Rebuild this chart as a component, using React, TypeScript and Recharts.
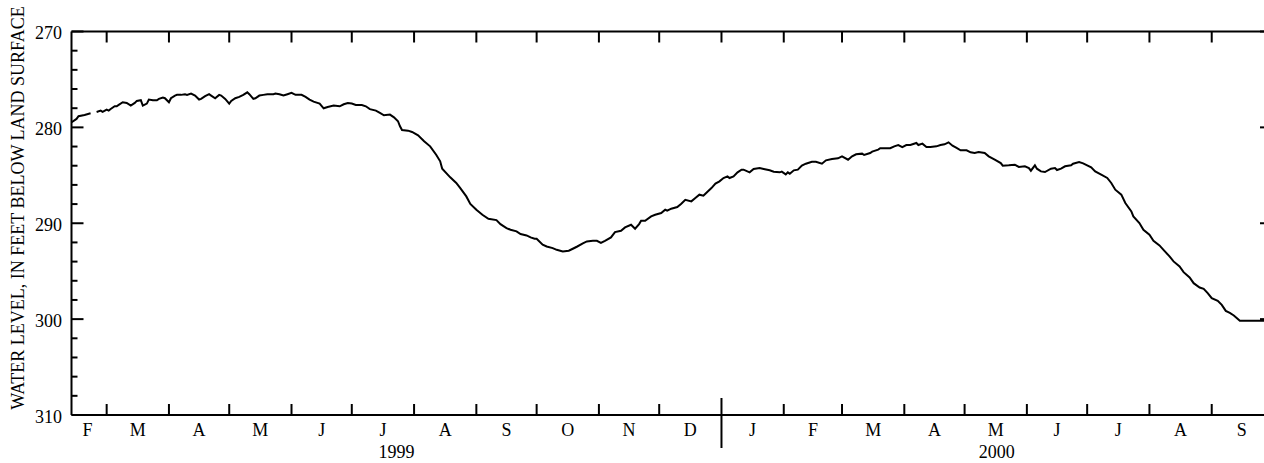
import React from 'react';
import { LineChart, Line, XAxis, YAxis } from 'recharts';

// Day offsets counted from 1999-01-01 (day 0); null level = gap in record
const dayOffsets = [
  41, 44, 45, 48, 51, 53, 54, 56, 57, 59, 60, 61, 63, 64, 65, 67, 69, 71, 73, 74, 76, 77, 79, 80, 82, 84, 85, 87, 88, 90,
  91, 93, 94, 96, 98, 99, 101, 103, 105, 106, 108, 110, 111, 113, 115, 116, 118, 120, 121, 123, 125, 127, 129, 130, 132,
  133, 135, 137, 139, 142, 143, 145, 147, 149, 151, 153, 156, 158, 160, 162, 165, 167, 169, 172, 175, 177, 179, 181, 183,
  186, 188, 190, 193, 195, 197, 200, 202, 204, 205, 206, 209, 211, 214, 217, 220, 223, 225, 226, 230, 233, 235, 238, 240,
  243, 246, 249, 253, 255, 258, 260, 263, 265, 268, 270, 272, 273, 276, 278, 281, 283, 286, 289, 291, 293, 296, 298, 301,
  303, 305, 307, 310, 312, 315, 317, 320, 322, 324, 325, 327, 330, 332, 335, 337, 338, 340, 343, 345, 347, 350, 352, 354,
  356, 357, 360, 362, 364, 366, 368, 369, 371, 373, 375, 376, 379, 381, 384, 386, 389, 391, 394, 395, 397, 398, 399, 401,
  403, 405, 407, 410, 412, 415, 417, 420, 423, 425, 428, 430, 432, 435, 436, 439, 440, 443, 444, 447, 449, 451, 453, 455,
  457, 459, 462, 463, 465, 467, 469, 472, 474, 476, 478, 480, 482, 484, 487, 489, 491, 493, 496, 498, 501, 504, 505, 508,
  511, 513, 516, 518, 519, 521, 522, 524, 526, 529, 531, 532, 534, 536, 539, 540, 543, 545, 547, 549, 551, 554, 557, 559,
  561, 564, 566, 569, 570, 573, 575, 578, 580, 583, 585, 588, 590, 593, 595, 598, 600, 603, 605, 607, 609, 612, 614, 616,
  618, 620, 623, 626, 630, 635, 638,
];

const waterLevels: (number | null)[] = [
  279.54, 279.12, 278.84, 278.7, 278.53, null, 278.39, 278.25, 278.39, 278.15, 278.25, 278.08, 277.8, 277.8, 277.66, 277.38,
  277.45, 277.73, 277.45, 277.24, 277.17, 277.73, 277.52, 277.1, 277.17, 277.17, 277.03, 276.89, 276.96, 277.38,
  276.96, 276.68, 276.61, 276.61, 276.54, 276.61, 276.47, 276.68, 277.1, 277.03, 276.75, 276.54, 276.68, 276.96, 276.61,
  276.68, 277.03, 277.52, 277.24, 276.96, 276.82, 276.61, 276.34, 276.54, 277.03,
  276.96, 276.68, 276.61, 276.54, 276.54, 276.47, 276.54, 276.68, 276.54, 276.4, 276.61, 276.61, 276.82, 277.1, 277.31,
  277.52, 278.01, 277.87, 277.73, 277.8, 277.59, 277.45, 277.52, 277.66,
  277.66, 277.8, 278.1, 278.25, 278.49, 278.74, 278.67, 278.95, 279.36, 279.89, 280.27, 280.34, 280.48, 280.83, 281.45,
  281.98, 282.85, 283.54, 284.31, 285.21, 285.8, 286.33, 287.2, 287.98,
  288.59, 289.11, 289.53, 289.67, 290.09, 290.5, 290.68, 290.85, 291.13, 291.27, 291.48, 291.62, 291.62, 292.24, 292.42,
  292.59, 292.77, 292.94, 292.87, 292.66, 292.45, 292.11, 291.9, 291.83,
  291.83, 292.04, 291.83, 291.48, 290.92, 290.78, 290.43, 290.16, 290.57, 290.09, 289.74, 289.74, 289.29, 289.11, 288.94,
  288.59, 288.69, 288.48, 288.31, 287.96, 287.55, 287.72, 287.37, 287.02,
  287.13, 286.92, 286.33, 285.87, 285.63, 285.28, 285.11, 285.28, 285.11, 284.69, 284.41, 284.41, 284.69, 284.34, 284.24,
  284.34, 284.48, 284.62, 284.69, 284.62, 284.9, 284.69, 284.83, 284.48,
  284.41, 283.99, 283.79, 283.58, 283.58, 283.79, 283.44, 283.3, 283.23, 283.02, 283.37, 283.02, 282.81, 282.74, 282.88,
  282.67, 282.53, 282.32, 282.18, 282.18, 282.18, 281.98, 281.84, 282.05,
  281.84, 281.84, 281.63, 281.84, 281.7, 282.05, 282.05, 281.98, 281.84, 281.77, 281.56, 281.91, 282.15, 282.39, 282.39,
  282.6, 282.67, 282.57, 282.67, 283.02, 283.37, 283.72, 283.99, 283.96,
  283.89, 284.13, 284.06, 284.24, 284.52, 283.96, 284.31, 284.59, 284.66, 284.31, 284.24, 284.45, 284.31, 284.06, 283.96,
  283.79, 283.61, 283.75, 283.96, 284.17, 284.59, 284.93, 285.28, 285.8,
  286.5, 287.02, 287.89, 288.76, 289.29, 289.98, 290.68, 291.2, 291.83, 292.31, 292.77, 293.46, 293.98, 294.51, 295.1,
  295.66, 296.25, 296.7, 296.84, 297.29, 297.81, 298.09, 298.51, 299.14,
  299.35, 299.62, 300.18, 300.18, 300.18, 300.18, 300.18,
];

// Month boundaries (first of month), day offsets from 1999-01-01
const monthStarts = [59, 90, 120, 151, 181, 212, 243, 273, 304, 334, 365, 396, 425, 456, 486, 517, 547, 578, 609];
// Label positions (middle of each month shown)
const monthLabelDays = [49.5, 74.5, 105, 135.5, 166, 196.5, 227.5, 258, 288.5, 319, 349.5, 380.5, 410.5, 440.5, 471, 501.5, 532, 562.5, 593.5, 624];
const monthLabels = ['F', 'M', 'A', 'M', 'J', 'J', 'A', 'S', 'O', 'N', 'D', 'J', 'F', 'M', 'A', 'M', 'J', 'J', 'A', 'S'];
const yearLabelDays = [203.25, 502];
const yearLabels = ['1999', '2000'];
const yearBoundary = 365;

const levelTicks = [270, 272, 274, 276, 278, 280, 282, 284, 286, 288, 290, 292, 294, 296, 298, 300, 302, 304, 306, 308, 310];
const levelLabels = [270, 280, 290, 300, 310];

const yAxisTitle = 'WATER LEVEL, IN FEET BELOW LAND SURFACE';

const X_DOMAIN: [number, number] = [41.5, 639];
const Y_DOMAIN: [number, number] = [270, 310];
const FONT = '"Liberation Serif", "Times New Roman", Times, serif';
const FS = 18;

const data = dayOffsets.map((d, i) => ({ day: d, level: waterLevels[i] }));
const bottomTicks = [...monthStarts, ...monthLabelDays, ...yearLabelDays].sort((a, b) => a - b);

const BottomTick = (props: any) => {
  const { x, y, payload } = props;
  const v = payload.value;
  const mi = monthLabelDays.indexOf(v);
  if (mi >= 0) {
    return (
      <text x={x} y={y + 21} textAnchor="middle" fontSize={FS} fontFamily={FONT} fill="#000">
        {monthLabels[mi]}
      </text>
    );
  }
  const yi = yearLabelDays.indexOf(v);
  if (yi >= 0) {
    return (
      <text x={x} y={y + 43} textAnchor="middle" fontSize={FS} fontFamily={FONT} fill="#000">
        {yearLabels[yi]}
      </text>
    );
  }
  if (v === yearBoundary) {
    return <line x1={x} x2={x} y1={y - 17} y2={y + 33} stroke="#000" strokeWidth={2} />;
  }
  return <line x1={x} x2={x} y1={y} y2={y - 11} stroke="#000" strokeWidth={2} />;
};

const TopTick = (props: any) => {
  const { x, y } = props;
  return <line x1={x} x2={x} y1={y} y2={y + 11} stroke="#000" strokeWidth={2} />;
};

const LeftTick = (props: any) => {
  const { x, y, payload } = props;
  const v = payload.value;
  const major = levelLabels.indexOf(v) >= 0;
  return (
    <g>
      <line x1={x} x2={x + (major ? 12 : 6)} y1={y} y2={y} stroke="#000" strokeWidth={2} />
      {major && (
        <text x={x - 9.5} y={y + 7.5} textAnchor="end" fontSize={FS} fontFamily={FONT} fill="#000">
          {v}
        </text>
      )}
    </g>
  );
};

const RightTick = (props: any) => {
  const { x, y, payload } = props;
  const major = levelLabels.indexOf(payload.value) >= 0;
  return <line x1={x} x2={x - (major ? 12 : 6)} y1={y} y2={y} stroke="#000" strokeWidth={2} />;
};

export default function App() {
  return (
    <div style={{ position: 'fixed', left: 0, top: 0, width: 1264, height: 463, overflow: 'hidden', background: '#fff' }}>
      <LineChart width={1280} height={463} data={data} margin={{ top: 0, right: 0, bottom: 0, left: 0 }}>
        <XAxis
          xAxisId="bottom"
          dataKey="day"
          type="number"
          domain={X_DOMAIN}
          allowDataOverflow
          orientation="bottom"
          height={48}
          ticks={bottomTicks}
          interval={0}
          tickSize={0}
          tickMargin={0}
          tickLine={false}
          axisLine={{ stroke: '#000', strokeWidth: 2 }}
          tick={BottomTick}
        />
        <XAxis
          xAxisId="top"
          dataKey="day"
          type="number"
          domain={X_DOMAIN}
          allowDataOverflow
          orientation="top"
          height={31.5}
          ticks={monthStarts}
          interval={0}
          tickSize={0}
          tickMargin={0}
          tickLine={false}
          axisLine={{ stroke: '#000', strokeWidth: 2 }}
          tick={TopTick}
        />
        <YAxis
          yAxisId="left"
          type="number"
          domain={Y_DOMAIN}
          reversed
          allowDataOverflow
          orientation="left"
          width={71.5}
          ticks={levelTicks}
          interval={0}
          tickSize={0}
          tickMargin={0}
          tickLine={false}
          axisLine={{ stroke: '#000', strokeWidth: 2 }}
          tick={LeftTick}
        />
        <YAxis
          yAxisId="right"
          type="number"
          domain={Y_DOMAIN}
          reversed
          allowDataOverflow
          orientation="right"
          width={8}
          ticks={levelTicks}
          interval={0}
          tickSize={0}
          tickMargin={0}
          tickLine={false}
          axisLine={{ stroke: '#000', strokeWidth: 2 }}
          tick={RightTick}
        />
        <Line
          xAxisId="bottom"
          yAxisId="left"
          type="linear"
          dataKey="level"
          stroke="#000"
          strokeWidth={2}
          dot={false}
          activeDot={false}
          connectNulls={false}
          isAnimationActive={false}
        />
      </LineChart>
      <svg width={40} height={463} style={{ position: 'absolute', left: 0, top: 0 }}>
        <text
          x={24}
          y={208}
          transform="rotate(-90 24 208)"
          textAnchor="middle"
          fontSize={FS}
          fontFamily={FONT}
          fill="#000"
        >
          {yAxisTitle}
        </text>
      </svg>
    </div>
  );
}
